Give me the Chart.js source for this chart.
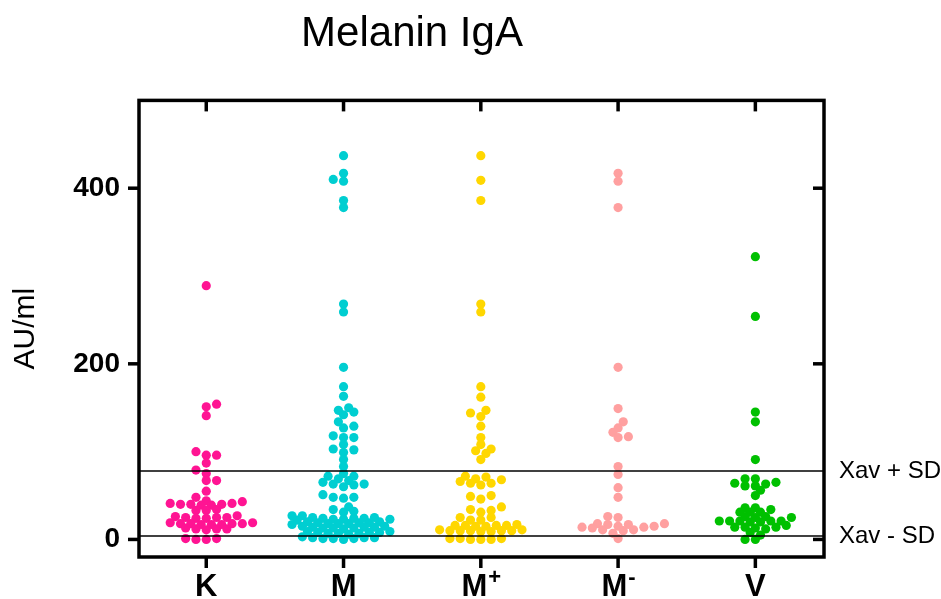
<!DOCTYPE html>
<html lang="en">
<head>
<meta charset="UTF-8">
<title>Melanin IgA</title>
<script src="https://cdn.jsdelivr.net/npm/chart.js"></script>
<style>
  html, body { margin: 0; padding: 0; background: #ffffff; }
  #wrap { width: 941px; height: 599px; }
</style>
</head>
<body>
<div id="wrap"><canvas id="igaChart" width="941" height="599"></canvas></div>
<script>
// groups on the x axis
const categories = ['K', 'M', 'M+', 'M-', 'V'];

// AU/ml values, one array per group
const kValues = [289, 154, 151, 141, 100, 96, 96, 87, 79, 75, 67, 67, 55, 48, 44, 43, 41, 41, 40, 40, 40, 39,
  39, 34, 33, 33, 27, 26, 25, 25, 25, 24, 24, 19, 19, 18, 18, 18, 18, 17, 17, 17, 13, 12, 12, 12, 11, 1, 1, 0, 0];
const mValues = [437, 417, 410, 408, 386, 378, 268, 259, 196, 174, 163, 150, 147, 145, 142, 134, 129, 127, 118,
  116, 116, 108, 103, 102, 99, 91, 83, 75, 72, 72, 69, 67, 65, 63, 63, 62, 60, 51, 48, 48, 47, 37, 34, 32, 31,
  27, 27, 25, 25, 24, 24, 24, 23, 23, 23, 22, 20, 20, 19, 19, 19, 18, 18, 18, 17, 15, 15, 14, 14, 14, 13, 13,
  13, 12, 9, 9, 8, 8, 8, 7, 7, 7, 6, 3, 2, 2, 2, 1, 1, 1, 0];
const mPlusValues = [437, 409, 386, 268, 259, 174, 162, 147, 144, 140, 129, 116, 108, 103, 101, 98, 91, 72, 71,
  69, 68, 66, 64, 64, 62, 50, 49, 46, 37, 34, 33, 31, 25, 25, 22, 22, 17, 16, 16, 16, 16, 15, 15, 11, 11, 10,
  10, 10, 10, 10, 9, 9, 1, 1, 1, 0, 0, 0];
const mMinusValues = [417, 408, 378, 196, 149, 134, 127, 122, 117, 116, 83, 74, 59, 48, 26, 25, 18, 18, 17, 17,
  15, 15, 14, 14, 13, 11, 11, 10, 7, 1];
const vValues = [322, 254, 145, 134, 91, 69, 69, 65, 64, 63, 61, 61, 56, 50, 36, 36, 34, 31, 31, 31, 26, 26, 25,
  25, 21, 21, 21, 21, 21, 20, 20, 16, 14, 14, 14, 13, 12, 8, 5, 0, 0];

const groupValues = [kValues, mValues, mPlusValues, mMinusValues, vValues];
const groupColors = ['#ff1493', '#00ced1', '#ffd700', '#ffa0a0', '#00c000'];

// y axis ticks and the two reference lines (mean +/- SD)
const yTicks = [0, 200, 400];
const refLines = [78, 4];
const refLabels = ['Xav + SD', 'Xav - SD'];

const FONT = '"Liberation Sans", Arial, sans-serif';

// draws box, ticks, reference lines and group labels
const framePlugin = {
  id: 'frame',
  afterDatasetsDraw(chart) {
    const ctx = chart.ctx;
    const a = chart.chartArea;
    const x = chart.scales.x;
    const y = chart.scales.y;
    ctx.save();
    ctx.strokeStyle = '#000';
    ctx.fillStyle = '#000';

    ctx.lineWidth = 1.5;
    ctx.font = '24px ' + FONT;
    ctx.textAlign = 'left';
    ctx.textBaseline = 'middle';
    refLines.forEach((v, i) => {
      const py = y.getPixelForValue(v);
      ctx.beginPath();
      ctx.moveTo(a.left, py);
      ctx.lineTo(a.right, py);
      ctx.stroke();
      ctx.fillText(refLabels[i], a.right + 15, py);
    });

    ctx.lineWidth = 3.5;
    ctx.strokeRect(a.left, a.top, a.right - a.left, a.bottom - a.top);
    const t = 11;
    const seg = (x1, y1, x2, y2) => {
      ctx.beginPath();
      ctx.moveTo(x1, y1);
      ctx.lineTo(x2, y2);
      ctx.stroke();
    };
    yTicks.forEach(v => {
      const py = y.getPixelForValue(v);
      seg(a.left - t, py, a.left, py);
      seg(a.right - t, py, a.right, py);
    });
    categories.forEach((c, i) => {
      const px = x.getPixelForValue(i);
      seg(px, a.bottom, px, a.bottom + t);
      seg(px, a.top, px, a.top + t);

      // label, with a trailing + or - set as superscript
      const sup = /[+-]$/.test(c) ? c.slice(-1) : '';
      const base = sup ? c.slice(0, -1) : c;
      ctx.font = 'bold 31px ' + FONT;
      const wb = ctx.measureText(base).width;
      ctx.font = 'bold 22px ' + FONT;
      const ws = sup ? ctx.measureText(sup).width : 0;
      const left = px - (wb + ws) / 2;
      ctx.textAlign = 'left';
      ctx.textBaseline = 'alphabetic';
      ctx.font = 'bold 31px ' + FONT;
      ctx.fillText(base, left, 596);
      if (sup) {
        ctx.font = 'bold 22px ' + FONT;
        ctx.fillText(sup, left + wb + 1, 584);
      }
    });
    ctx.restore();
  }
};

const chart = new Chart(document.getElementById('igaChart'), {
  type: 'scatter',
  data: {
    datasets: groupValues.map((vals, i) => ({
      label: categories[i],
      data: vals.map(v => ({ x: i, y: v })),
      backgroundColor: groupColors[i],
      borderWidth: 0,
      pointRadius: 4.6,
      pointHoverRadius: 4.6
    }))
  },
  options: {
    responsive: false,
    animation: false,
    layout: { padding: { left: 0, right: 117, top: 0, bottom: 0 } },
    plugins: {
      legend: { display: false },
      tooltip: { enabled: false },
      title: {
        display: true,
        text: 'Melanin IgA',
        color: '#000',
        font: { family: FONT, size: 42, weight: 'normal' },
        padding: { top: 9, bottom: 41 }
      }
    },
    scales: {
      x: {
        type: 'linear',
        min: -0.49,
        max: 4.5,
        grid: { display: false },
        border: { display: false },
        ticks: { display: false },
        afterFit(scale) { scale.height = 42; }
      },
      y: {
        min: -20,
        max: 500,
        grid: { display: false, drawTicks: false },
        border: { display: false },
        afterBuildTicks(scale) { scale.ticks = yTicks.map(v => ({ value: v })); },
        afterFit(scale) { scale.width = 139; },
        ticks: {
          color: '#000',
          padding: 19,
          font: { family: FONT, size: 28, weight: 'bold' }
        },
        title: {
          display: true,
          text: 'AU/ml',
          color: '#000',
          font: { family: FONT, size: 30, weight: 'normal' },
          padding: { top: 8, bottom: 0 }
        }
      }
    }
  },
  plugins: [framePlugin]
});

// swarm layout: walk each group from the lowest value up and put every
// point in the free slot closest to the group centre
function spreadPoints() {
  const xs = chart.scales.x;
  const ys = chart.scales.y;
  const pxPerUnit = xs.getPixelForValue(1) - xs.getPixelForValue(0);
  const minDist = 6.4;
  const slot = 5.15;
  chart.data.datasets.forEach((ds, i) => {
    const pts = ds.data.slice().sort((p, q) => p.y - q.y);
    const placed = [];
    let lastSide = 1;
    pts.forEach(p => {
      const py = ys.getPixelForValue(p.y);
      const near = placed.filter(q => Math.abs(q.py - py) < minDist);
      const free = off => near.every(q => Math.hypot(q.off - off, q.py - py) >= minDist);
      let off = 0;
      if (!free(0)) {
        for (let k = 1; k < 40; k++) {
          const a = -lastSide * k * slot;
          const b = lastSide * k * slot;
          if (free(a)) { off = a; break; }
          if (free(b)) { off = b; break; }
        }
      }
      if (off !== 0) lastSide = Math.sign(off);
      placed.push({ py: py, off: off });
      p.x = i + off / pxPerUnit;
    });
  });
  chart.update('none');
}
spreadPoints();
</script>
</body>
</html>
